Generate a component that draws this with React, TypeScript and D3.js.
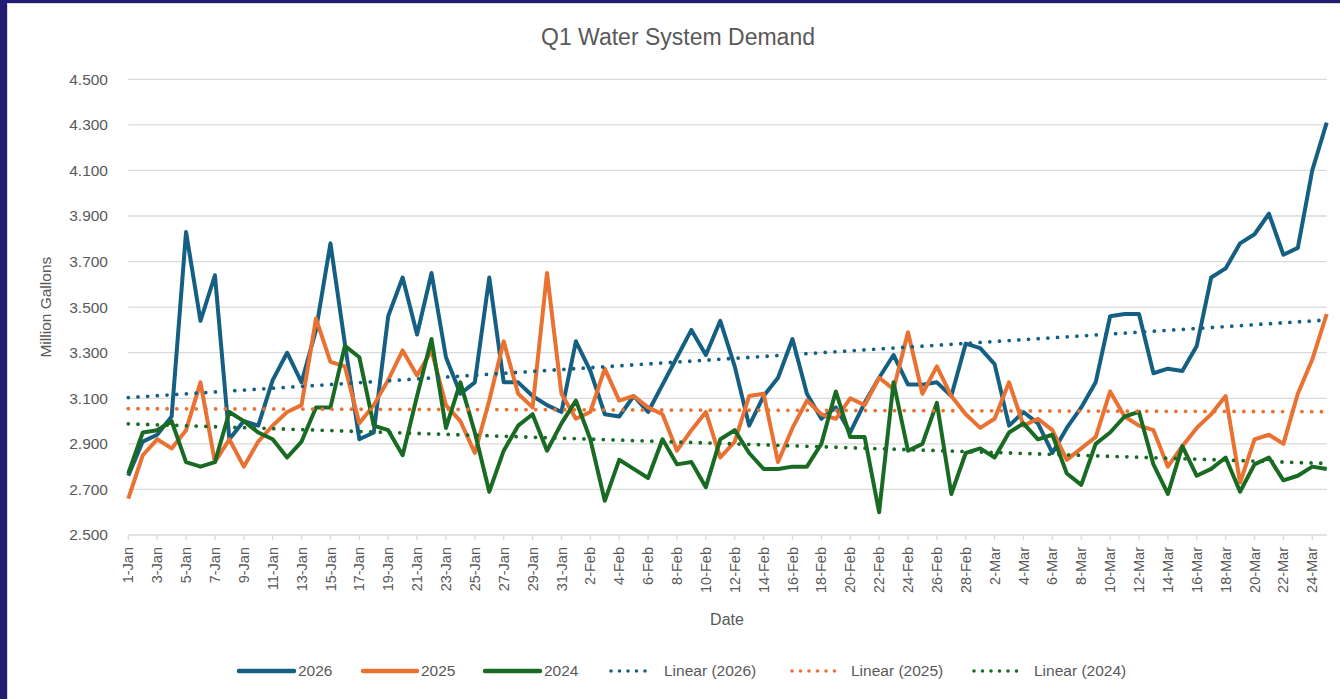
import React from 'react'
import * as d3 from 'd3'

// daily demand, million gallons, 1-Jan .. 25-Mar
const s2026 = [2.76, 2.91, 2.94, 3.02, 3.83, 3.44, 3.64, 2.92, 3.00, 2.98, 3.18, 3.30, 3.17, 3.40, 3.78, 3.34, 2.92, 2.95, 3.46, 3.63, 3.38, 3.65, 3.28, 3.12, 3.17, 3.63, 3.17, 3.17, 3.11, 3.07, 3.04, 3.35, 3.22, 3.03, 3.02, 3.11, 3.04, 3.16, 3.28, 3.40, 3.29, 3.44, 3.24, 2.98, 3.11, 3.19, 3.36, 3.12, 3.01, 3.06, 2.95, 3.08, 3.19, 3.29, 3.16, 3.16, 3.17, 3.11, 3.34, 3.32, 3.25, 2.98, 3.04, 2.99, 2.86, 2.97, 3.06, 3.17, 3.46, 3.47, 3.47, 3.21, 3.23, 3.22, 3.33, 3.63, 3.67, 3.78, 3.82, 3.91, 3.73, 3.76, 4.10, 4.31]
const s2025 = [2.66, 2.85, 2.92, 2.88, 2.96, 3.17, 2.82, 2.92, 2.80, 2.91, 2.98, 3.04, 3.07, 3.45, 3.26, 3.24, 2.99, 3.07, 3.18, 3.31, 3.20, 3.31, 3.07, 3.00, 2.86, 3.09, 3.35, 3.12, 3.06, 3.65, 3.12, 3.01, 3.04, 3.23, 3.09, 3.11, 3.06, 3.03, 2.87, 2.96, 3.04, 2.84, 2.91, 3.11, 3.12, 2.82, 2.97, 3.09, 3.03, 3.01, 3.10, 3.07, 3.19, 3.14, 3.39, 3.12, 3.24, 3.11, 3.03, 2.97, 3.01, 3.17, 2.98, 3.01, 2.96, 2.83, 2.88, 2.93, 3.13, 3.02, 2.98, 2.96, 2.80, 2.89, 2.97, 3.03, 3.11, 2.73, 2.92, 2.94, 2.90, 3.12, 3.27, 3.47]
const s2024 = [2.77, 2.95, 2.96, 3.00, 2.82, 2.80, 2.82, 3.04, 3.00, 2.95, 2.92, 2.84, 2.91, 3.06, 3.06, 3.33, 3.28, 2.98, 2.96, 2.85, 3.11, 3.36, 2.97, 3.17, 2.95, 2.69, 2.87, 2.98, 3.03, 2.87, 2.99, 3.09, 2.92, 2.65, 2.83, 2.79, 2.75, 2.92, 2.81, 2.82, 2.71, 2.92, 2.96, 2.86, 2.79, 2.79, 2.80, 2.80, 2.90, 3.13, 2.93, 2.93, 2.60, 3.17, 2.87, 2.90, 3.08, 2.68, 2.86, 2.88, 2.84, 2.95, 2.99, 2.92, 2.94, 2.77, 2.72, 2.90, 2.95, 3.02, 3.04, 2.81, 2.68, 2.89, 2.76, 2.79, 2.84, 2.69, 2.81, 2.84, 2.74, 2.76, 2.80, 2.79]

const yTicks = [2.5, 2.7, 2.9, 3.1, 3.3, 3.5, 3.7, 3.9, 4.1, 4.3, 4.5]
const fmtDay = d3.timeFormat('%-d-%b')
const days = d3.timeDay.range(new Date(2026, 0, 1), new Date(2026, 2, 26)).map(fmtDay)

const series = [
  {name: '2026', color: '#156082', values: s2026},
  {name: '2025', color: '#E97132', values: s2025},
  {name: '2024', color: '#196B24', values: s2024}
]

const font = '"Liberation Sans", Arial, sans-serif'
const textColor = '#595959'

// least squares fit over the day index
const fit = (vals: number[]) => {
  const n = vals.length
  const mx = d3.mean(vals, (_, i) => i) as number
  const my = d3.mean(vals) as number
  let num = 0
  let den = 0
  vals.forEach((v, i) => { num += (i - mx) * (v - my); den += (i - mx) * (i - mx) })
  const b = num / den
  const a = my - b * mx
  return [a, a + b * (n - 1)]
}

const App = () => {
  const width = 1340
  const height = 699
  const left = 128.3
  const right = 1326.7
  const top = 79.3
  const bottom = 535

  const x = d3.scalePoint<string>().domain(days).range([left, right]).padding(0)
  const y = d3.scaleLinear().domain([2.5, 4.5]).range([bottom, top])

  const line = d3.line<number>()
    .x((_, i) => x(days[i]) as number)
    .y(d => y(d))

  const grid = yTicks.map((t, i) => (
    <g key={i}>
      {t > 2.5 && <line x1={left} x2={right} y1={y(t)} y2={y(t)} stroke="#D9D9D9" strokeWidth={1.3}/>}
      <text x={108} y={y(t)} dy="0.35em" textAnchor="end" fontSize={15.5} fill={textColor}>{t.toFixed(3)}</text>
    </g>
  ))

  const xLabels = days.filter((_, i) => i % 2 === 0).map(d => {
    const px = x(d) as number
    return (
      <g key={d}>
        <line x1={px} x2={px} y1={bottom} y2={bottom + 5} stroke="#D9D9D9" strokeWidth={1.3}/>
        <text transform={`translate(${px},${bottom + 12}) rotate(-90)`} textAnchor="end" dy="0.35em" fontSize={14.5} fill={textColor}>{d}</text>
      </g>
    )
  })

  const trends = series.map(s => {
    const [a, b] = fit(s.values)
    return (
      <line key={'t' + s.name} x1={left} x2={right} y1={y(a)} y2={y(b)} stroke={s.color}
        strokeWidth={3.8} strokeLinecap="round" strokeDasharray="0 9.7"/>
    )
  })

  // first series at the bottom, last on top
  const lines = series.map(s => (
    <path key={s.name} d={line(s.values) || ''} fill="none" stroke={s.color} strokeWidth={4} strokeLinejoin="round"/>
  ))

  const legend = [
    {label: '2026', color: '#156082', dotted: false, x0: 239, x1: 294},
    {label: '2025', color: '#E97132', dotted: false, x0: 363, x1: 417},
    {label: '2024', color: '#196B24', dotted: false, x0: 485, x1: 540},
    {label: 'Linear (2026)', color: '#156082', dotted: true, x0: 611, x1: 653},
    {label: 'Linear (2025)', color: '#E97132', dotted: true, x0: 792, x1: 840},
    {label: 'Linear (2024)', color: '#196B24', dotted: true, x0: 974, x1: 1023}
  ]

  return (
    <svg width={width} height={height} style={{position: 'absolute', left: 0, top: 0, display: 'block'}} fontFamily={font}>
      <rect x={0} y={0} width={width} height={height} fill="#fff"/>
      <rect x={0} y={0} width={width} height={3} fill="#211C72"/>
      <rect x={0} y={0} width={7} height={height} fill="#211C72"/>
      <line x1={7} x2={width} y1={3.5} y2={3.5} stroke="#D9D9D9"/>
      <line x1={7.5} x2={7.5} y1={3} y2={height} stroke="#D9D9D9"/>

      <text x={678} y={37} dy="0.35em" textAnchor="middle" fontSize={23} fill={textColor}>Q1 Water System Demand</text>

      {grid}
      <line x1={left} x2={right} y1={bottom} y2={bottom} stroke="#D9D9D9" strokeWidth={1.3}/>
      {xLabels}
      <g>{lines}</g>
      <g>{trends}</g>

      <text transform={`translate(46,${(top + bottom) / 2}) rotate(-90)`} textAnchor="middle" dy="0.35em" fontSize={15.5} fill={textColor}>Million Gallons</text>
      <text x={727} y={619} dy="0.35em" textAnchor="middle" fontSize={16} fill={textColor}>Date</text>

      {legend.map(l => (
        <g key={l.label}>
          <line x1={l.x0} x2={l.x1} y1={671} y2={671} stroke={l.color} strokeWidth={l.dotted ? 3.6 : 4.5}
            strokeLinecap="round" strokeDasharray={l.dotted ? '0 8.5' : undefined}/>
          <text x={l.x1 + (l.dotted ? 11 : 4)} y={671} dy="0.35em" fontSize={15.5} fill={textColor}>{l.label}</text>
        </g>
      ))}
    </svg>
  )
}

export default App
